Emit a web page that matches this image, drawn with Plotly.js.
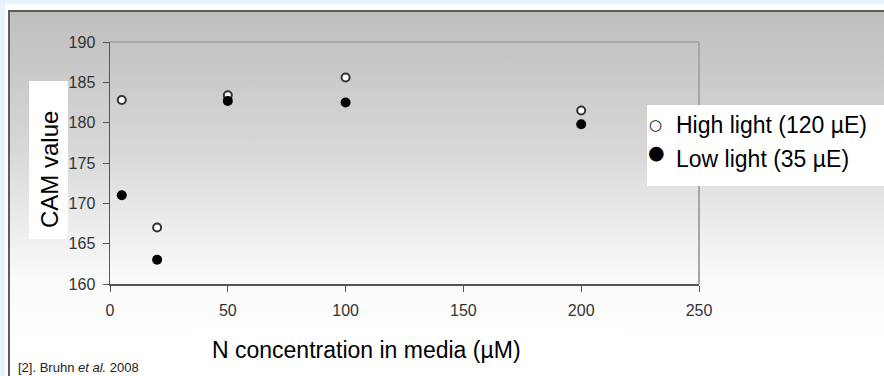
<!DOCTYPE html>
<html>
<head>
<meta charset="utf-8">
<script src="https://cdn.plot.ly/plotly-3.0.1.min.js"></script>
<style>
  html, body { margin: 0; padding: 0; overflow: hidden; }
  #outer { position: absolute; left: 0; top: 0; width: 884px; height: 376px; background: #e6f4fd; }
  #white { position: absolute; left: 5px; top: 4px; right: 0; bottom: 0; background: #ffffff; }
  #panel { position: absolute; left: 8px; top: 10px; right: 0; bottom: 0;
           border-top: 2px solid #5c5c5c; border-left: 2px solid #5c5c5c;
           background: linear-gradient(to bottom, #bfbfbf 0%, #c5c5c5 10%, #d8d8d8 38%, #eeeeee 60%, #fafafa 74%, #ffffff 90%); }
  #chart { position: absolute; left: 0; top: 0; width: 884px; height: 376px; }
</style>
</head>
<body>
<div id="outer"><div id="white"></div><div id="panel"></div></div>
<div id="chart"></div>
<script>
// Data
const nConc = [5, 20, 50, 100, 200];
const highLight = [182.8, 167.0, 183.4, 185.6, 181.5];
const lowLight = [171.0, 163.0, 182.7, 182.5, 179.8];
const seriesNames = ['High light (120 µE)', 'Low light (35 µE)'];
const xTickVals = [0, 50, 100, 150, 200, 250];
const yTickVals = [160, 165, 170, 175, 180, 185, 190];

const W = 884, H = 376;
const M = {l: 110, r: 185, t: 42, b: 92};
const pw = W - M.l - M.r, ph = H - M.t - M.b;
const px = x => (x - M.l) / pw;
const py = y => (H - M.b - y) / ph;

const font = 'Arial, "Liberation Sans", Helvetica, sans-serif';

const traces = [
  {x: nConc, y: highLight, name: seriesNames[0], type: 'scatter', mode: 'markers',
   marker: {size: 8, color: '#ffffff', line: {color: '#333333', width: 2}}, showlegend: false},
  {x: nConc, y: lowLight, name: seriesNames[1], type: 'scatter', mode: 'markers',
   marker: {size: 10, color: '#000000', line: {width: 0}}, showlegend: false}
];

const layout = {
  width: W, height: H,
  margin: M,
  paper_bgcolor: 'rgba(0,0,0,0)',
  plot_bgcolor: 'rgba(0,0,0,0)',
  font: {family: font, color: '#333'},
  xaxis: {range: [0, 250], tickvals: xTickVals, ticks: 'outside', ticklen: 6, tickwidth: 1,
          tickcolor: '#555', showline: true, linecolor: '#555', linewidth: 1.5,
          showgrid: false, zeroline: false, tickfont: {size: 16, color: '#333', family: font},
          ticklabelstandoff: 5, fixedrange: true},
  yaxis: {range: [160, 190], tickvals: yTickVals, ticks: 'outside', ticklen: 6, tickwidth: 1,
          tickcolor: '#555', showline: true, linecolor: '#555', linewidth: 1.5,
          showgrid: false, zeroline: false, tickfont: {size: 16, color: '#333', family: font},
          ticklabelstandoff: 4, fixedrange: true},
  shapes: [
    // top and right frame lines of plot area
    {type: 'line', xref: 'paper', yref: 'paper', x0: 0, x1: 1, y0: 1, y1: 1, line: {color: '#a6a6a6', width: 2}},
    {type: 'line', xref: 'paper', yref: 'paper', x0: 1, x1: 1, y0: 0, y1: 1, line: {color: '#a6a6a6', width: 2}},
    // white boxes behind titles and legend
    {type: 'rect', xref: 'paper', yref: 'paper', x0: px(29), x1: px(68), y0: py(239), y1: py(81),
     fillcolor: '#ffffff', line: {width: 0}},
    {type: 'rect', xref: 'paper', yref: 'paper', x0: px(195), x1: px(620), y0: py(376), y1: py(328),
     fillcolor: '#ffffff', line: {width: 0}},
    {type: 'rect', xref: 'paper', yref: 'paper', x0: px(647), x1: px(884), y0: py(186), y1: py(105),
     fillcolor: '#ffffff', line: {width: 0}}
  ],
  annotations: [
    {text: 'CAM value', xref: 'paper', yref: 'paper', x: px(49), y: py(170), textangle: -90,
     showarrow: false, xanchor: 'center', yanchor: 'middle', font: {size: 24, color: '#000', family: font}},
    {text: 'N concentration in media (µM)', xref: 'paper', yref: 'paper', x: px(366), y: py(350),
     showarrow: false, xanchor: 'center', yanchor: 'middle', font: {size: 23, color: '#000', family: font}},
    {text: '○', xref: 'paper', yref: 'paper', x: px(655), y: py(125),
     showarrow: false, xanchor: 'center', yanchor: 'middle', font: {size: 15, color: '#000', family: '"DejaVu Sans"'}},
    {text: '●', xref: 'paper', yref: 'paper', x: px(656), y: py(152),
     showarrow: false, xanchor: 'center', yanchor: 'middle', font: {size: 19, color: '#000', family: '"DejaVu Sans"'}},
    {text: seriesNames[0], xref: 'paper', yref: 'paper', x: px(674), y: py(125),
     showarrow: false, xanchor: 'left', yanchor: 'middle', font: {size: 23, color: '#000', family: font}},
    {text: seriesNames[1], xref: 'paper', yref: 'paper', x: px(674), y: py(159),
     showarrow: false, xanchor: 'left', yanchor: 'middle', font: {size: 23, color: '#000', family: font}},
    {text: '[2]. Bruhn <i>et al.</i> 2008', xref: 'paper', yref: 'paper', x: px(16), y: py(367),
     showarrow: false, xanchor: 'left', yanchor: 'middle', font: {size: 13, color: '#222', family: font}}
  ]
};

Plotly.newPlot('chart', traces, layout, {staticPlot: true, displayModeBar: false});
</script>
</body>
</html>
